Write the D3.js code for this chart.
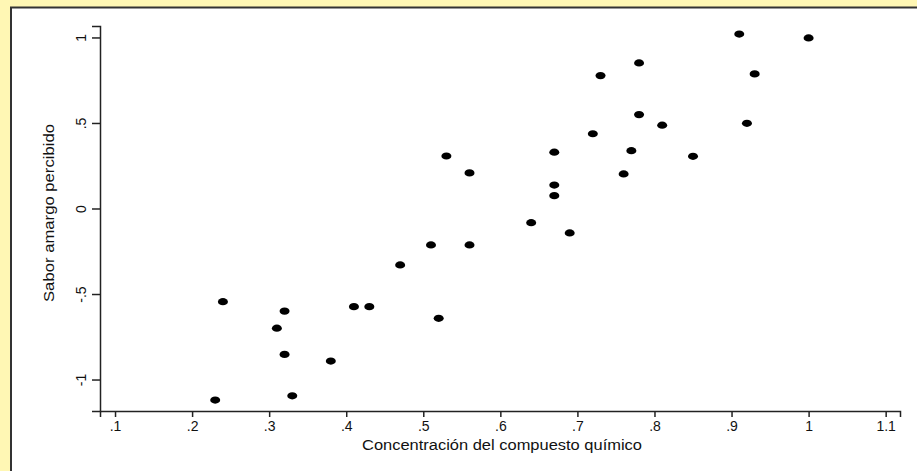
<!DOCTYPE html>
<html>
<head>
<meta charset="utf-8">
<script src="https://cdn.jsdelivr.net/npm/d3@7"></script>
<style>
  html, body { margin: 0; padding: 0; background: #fff7b4; }
  svg { display: block; }
  text { font-family: "Liberation Sans", Arial, sans-serif; fill: #111; }
</style>
</head>
<body>
<div id="chart"></div>
<script>
// concentration of the compound (x) and perceived bitterness (y)
const concentracion = [0.23, 0.24, 0.31, 0.32, 0.32, 0.33, 0.38, 0.41, 0.43, 0.47,
  0.51, 0.52, 0.53, 0.56, 0.56, 0.64, 0.67, 0.67, 0.67, 0.69,
  0.72, 0.73, 0.76, 0.77, 0.78, 0.78, 0.81, 0.85, 0.91, 0.92, 0.93, 1.0];
const sabor = [-1.12, -0.545, -0.70, -0.60, -0.853, -1.095, -0.892, -0.574, -0.574, -0.33,
  -0.213, -0.642, 0.307, 0.208, -0.213, -0.083, 0.329, 0.137, 0.075, -0.143,
  0.437, 0.777, 0.202, 0.338, 0.851, 0.549, 0.487, 0.305, 1.02, 0.498, 0.787, 0.997];

const xTicks = [0.1, 0.2, 0.3, 0.4, 0.5, 0.6, 0.7, 0.8, 0.9, 1, 1.1];
const xTickLabels = [".1", ".2", ".3", ".4", ".5", ".6", ".7", ".8", ".9", "1", "1.1"];
const yTicks = [-1, -0.5, 0, 0.5, 1];
const yTickLabels = ["-1", "-.5", "0", ".5", "1"];

const xTitle = "Concentración del compuesto químico";
const yTitle = "Sabor amargo percibido";

const W = 917, H = 471;
const margin = { top: 26, right: 17, bottom: 60, left: 100 };

const svg = d3.select("#chart")
  .append("svg")
  .attr("width", W)
  .attr("height", H);

// white panel with the dark frame on top and left
svg.append("rect")
  .attr("x", 11).attr("y", 7.5)
  .attr("width", W).attr("height", H)
  .attr("fill", "#fff");
svg.append("path")
  .attr("d", `M11,${H} V7.5 H${W}`)
  .attr("fill", "none")
  .attr("stroke", "#333")
  .attr("stroke-width", 2);

const x = d3.scaleLinear()
  .domain([0.0805, 1.1186])
  .range([margin.left, W - margin.right]);
const y = d3.scaleLinear()
  .domain([-1.184, 1.067])
  .range([H - margin.bottom, margin.top]);

const xAxis = svg.append("g")
  .attr("transform", `translate(0,${H - margin.bottom})`)
  .call(d3.axisBottom(x)
    .tickValues(xTicks)
    .tickFormat((d, i) => xTickLabels[i])
    .tickSizeOuter(0)
    .tickSize(6)
    .tickPadding(4));

const yAxis = svg.append("g")
  .attr("transform", `translate(${margin.left},0)`)
  .call(d3.axisLeft(y)
    .tickValues(yTicks)
    .tickFormat((d, i) => yTickLabels[i])
    .tickSizeOuter(0)
    .tickSize(8));

[xAxis, yAxis].forEach(g => {
  g.select(".domain").attr("stroke", "#222").attr("stroke-width", 1.5);
  g.selectAll(".tick line").attr("stroke", "#222").attr("stroke-width", 1.5);
  g.selectAll(".tick text")
    .style("font-family", "'Liberation Sans', Arial, sans-serif")
    .style("font-size", "14px")
    .attr("fill", "#111");
});

// vertical y tick labels
yAxis.selectAll(".tick text")
  .attr("x", null).attr("dy", null)
  .attr("text-anchor", "middle")
  .attr("transform", "translate(-19,0) rotate(-90) translate(0,5)");

svg.append("text")
  .attr("x", 502)
  .attr("y", 450)
  .attr("text-anchor", "middle")
  .attr("textLength", 280)
  .attr("lengthAdjust", "spacingAndGlyphs")
  .style("font-size", "14px")
  .text(xTitle);

svg.append("text")
  .attr("transform", "translate(54,213) rotate(-90)")
  .attr("text-anchor", "middle")
  .attr("textLength", 178)
  .attr("lengthAdjust", "spacingAndGlyphs")
  .style("font-size", "14px")
  .text(yTitle);

svg.append("g")
  .selectAll("ellipse")
  .data(concentracion.map((c, i) => [c, sabor[i]]))
  .join("ellipse")
  .attr("cx", d => x(d[0]))
  .attr("cy", d => y(d[1]))
  .attr("rx", 5)
  .attr("ry", 3.6)
  .attr("fill", "#000");
</script>
</body>
</html>
